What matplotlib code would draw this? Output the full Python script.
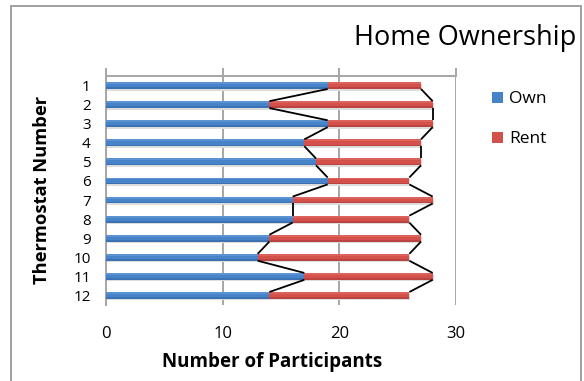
import matplotlib
matplotlib.use("Agg")
import matplotlib.pyplot as plt
from matplotlib.patches import Rectangle
import numpy as np

# Survey data: participants per thermostat, split by home ownership
thermostats = ["1", "2", "3", "4", "5", "6", "7", "8", "9", "10", "11", "12"]
own = [19, 14, 19, 17, 18, 19, 16, 16, 14, 13, 17, 14]
rent = [8, 14, 9, 10, 9, 7, 12, 10, 13, 13, 11, 12]
x_ticks = [0, 10, 20, 30]

FONT = "Open Sans"
BLUE = "#4683C8"
BLUE_LIGHT = "#5B93D2"
BLUE_DARK = "#3A72B3"
RED = "#D4504A"
RED_LIGHT = "#DC625C"
RED_DARK = "#BC4440"
GRID = "#A6A6A6"

W, H = 584, 381
fig = plt.figure(figsize=(W / 100, H / 100), dpi=100)
fig.patch.set_facecolor("white")

# chart-area border
fig.patches.append(Rectangle((11 / W, -0.05), 570 / W, 1 - 6 / H + 0.05,
                             transform=fig.transFigure, fill=False,
                             edgecolor="#A0A0A0", linewidth=1.4))

left, right, top, bottom = 106, 456, 76, 305
ax = fig.add_axes([left / W, 1 - bottom / H, (right - left) / W, (bottom - top) / H])

y = np.arange(1, len(thermostats) + 1)
own_arr = np.array(own)
total = own_arr + np.array(rent)
h = 0.36

# soft drop shadow under each bar
ax.barh(y + 0.08, total, height=h, left=0.08, color="#DCDCDC", zorder=2,
        linewidth=0)
# stacked bars
ax.barh(y, own, height=h, color=BLUE, zorder=3, linewidth=0)
ax.barh(y, rent, height=h, left=own, color=RED, zorder=3, linewidth=0)
# gentle shading: lighter top edge, darker bottom edge
ax.barh(y - h * 0.36, own, height=h * 0.28, color=BLUE_LIGHT, zorder=4, linewidth=0)
ax.barh(y + h * 0.38, own, height=h * 0.24, color=BLUE_DARK, zorder=4, linewidth=0)
ax.barh(y - h * 0.36, rent, height=h * 0.28, left=own, color=RED_LIGHT, zorder=4,
        linewidth=0)
ax.barh(y + h * 0.38, rent, height=h * 0.24, left=own, color=RED_DARK, zorder=4,
        linewidth=0)

# series lines joining bar segment ends between neighbouring rows
for i in range(len(y) - 1):
    ax.plot([own_arr[i], own_arr[i + 1]], [y[i] + h / 2, y[i + 1] - h / 2],
            color="black", lw=1.3, zorder=5, solid_capstyle="butt")
    ax.plot([total[i], total[i + 1]], [y[i] + h / 2, y[i + 1] - h / 2],
            color="black", lw=1.3, zorder=5, solid_capstyle="butt")

ax.set_xlim(0, 30)
ax.set_ylim(len(thermostats) + 0.5, 0.5)
ax.set_xticks(x_ticks)
ax.set_yticks(y)
ax.set_yticklabels(thermostats, fontfamily=FONT, fontsize=11)
ax.tick_params(axis="y", length=0, pad=11)

# value axis line sits on top, labels below the plot
ax.xaxis.set_ticks_position("top")
ax.tick_params(axis="x", which="both", direction="out", length=6, width=1.4,
               color=GRID, labeltop=False, labelbottom=True, pad=15)
for lbl in ax.get_xticklabels():
    lbl.set_fontfamily(FONT)
    lbl.set_fontsize(12)
    lbl.set_verticalalignment("center")

ax.grid(axis="x", color=GRID, lw=1.4, zorder=0)
ax.set_axisbelow(True)
for side in ["right", "bottom"]:
    ax.spines[side].set_visible(False)
ax.spines["top"].set_color(GRID)
ax.spines["top"].set_linewidth(1.4)
ax.spines["left"].set_color(GRID)
ax.spines["left"].set_linewidth(1.4)

fig.text(465 / W, 1 - 38 / H, "Home Ownership", fontfamily=FONT, fontsize=19.5,
         ha="center", va="center")
fig.text(272 / W, 1 - 362 / H, "Number of Participants", fontfamily=FONT,
         fontsize=13.5, fontweight="bold", ha="center", va="center")
fig.text(42 / W, 1 - 190 / H, "Thermostat Number", fontfamily=FONT,
         fontsize=13.2, fontweight="bold", ha="center", va="center", rotation=90)

# legend
for yy, col, name in [(97, BLUE, "Own"), (137, RED, "Rent")]:
    fig.patches.append(Rectangle((492 / W, 1 - (yy + 5.5) / H), 11 / W, 11 / H,
                                 transform=fig.transFigure, facecolor=col,
                                 edgecolor="none"))
    fig.text(509 / W, 1 - (yy + 2) / H, name, fontfamily=FONT, fontsize=12.5,
             ha="left", va="center")

fig.savefig("out.png", dpi=100)
